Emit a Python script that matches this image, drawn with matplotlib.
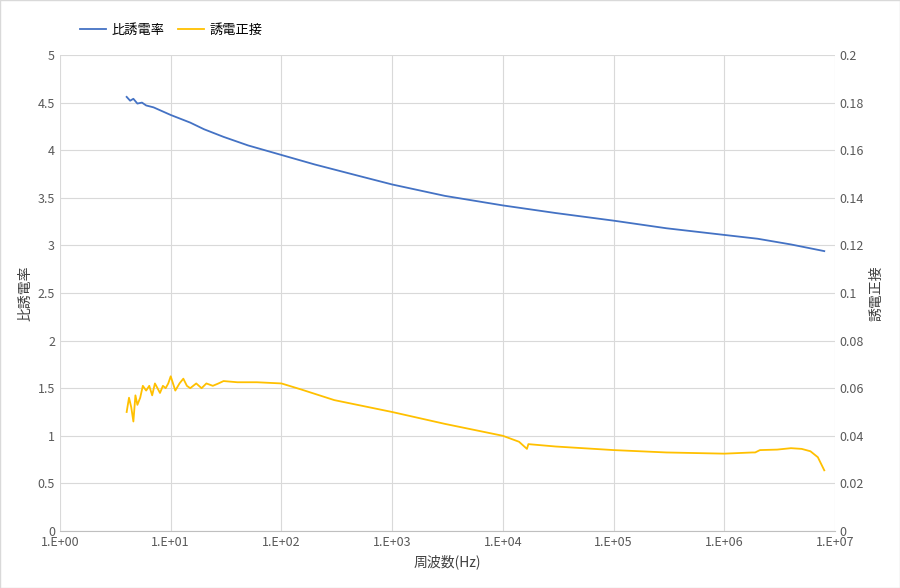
import matplotlib
matplotlib.use("Agg")
import matplotlib.pyplot as plt
from matplotlib.ticker import FixedLocator

plt.rcParams['font.family'] = ['Noto Sans CJK JP', 'DejaVu Sans']

freq_eps = [4.0, 4.3, 4.6, 5.0, 5.5, 6.0, 7.0, 8.0, 10, 15, 20, 30, 50, 100, 200, 500,
            1e3, 3e3, 1e4, 3e4, 1e5, 3e5, 1e6, 2e6, 4e6, 8e6]
eps = [4.56, 4.52, 4.54, 4.49, 4.50, 4.47, 4.45, 4.42, 4.37, 4.29, 4.22, 4.14, 4.05, 3.95,
       3.85, 3.73, 3.64, 3.52, 3.42, 3.34, 3.26, 3.18, 3.11, 3.07, 3.01, 2.94]

freq_tan = [4.0, 4.2, 4.4, 4.6, 4.8, 5.0, 5.3, 5.6, 6.0, 6.4, 6.8, 7.2, 7.6, 8.0, 8.5, 9.0,
            9.5, 10, 11, 12, 13, 14, 15, 17, 19, 21, 24, 27, 30, 40, 60, 100, 150, 300,
            1000, 3000, 1e4, 1.4e4, 1.65e4, 1.7e4, 3e4, 1e5, 3e5, 1e6, 1.8e6, 1.9e6,
            2.1e6, 3e6, 4e6, 5e6, 6e6, 7e6, 8e6]
tan = [0.050, 0.056, 0.052, 0.046, 0.057, 0.053, 0.056, 0.061, 0.059, 0.061, 0.057, 0.062,
       0.060, 0.058, 0.061, 0.060, 0.062, 0.065, 0.059, 0.062, 0.064, 0.061, 0.060, 0.062,
       0.060, 0.062, 0.061, 0.062, 0.063, 0.0625, 0.0625, 0.062, 0.0595, 0.0550,
       0.0500, 0.0450, 0.0400, 0.0375, 0.0345, 0.0365, 0.0355, 0.0340, 0.0330, 0.0325,
       0.0330, 0.0330, 0.0340, 0.0342, 0.0348, 0.0345, 0.0335, 0.0310, 0.0255]

fig = plt.figure(figsize=(9, 5.88), dpi=100)
ax = fig.add_axes([60/900, 57/588, 775/900, 476/588])
ax2 = ax.twinx()
blue, orange = '#4472C4', '#FFC000'
l1, = ax.plot(freq_eps, eps, color=blue, lw=1.3, label='比誘電率')
l2, = ax2.plot(freq_tan, tan, color=orange, lw=1.3, label='誘電正接')
ax.set_xscale('log')
ax.set_xlim(1, 1e7)
ax.set_ylim(0, 5)
ax2.set_ylim(0, 0.2)
ax.set_yticks([i*0.5 for i in range(11)])
ax.set_yticklabels(['0', '0.5', '1', '1.5', '2', '2.5', '3', '3.5', '4', '4.5', '5'])
ax2.set_yticks([i*0.02 for i in range(11)])
ax2.set_yticklabels(['0', '0.02', '0.04', '0.06', '0.08', '0.1', '0.12', '0.14', '0.16', '0.18', '0.2'])
xt = [10**i for i in range(8)]
ax.xaxis.set_major_locator(FixedLocator(xt))
ax.set_xticklabels([f'1.E+{i:02d}' for i in range(8)])
ax.xaxis.set_minor_locator(FixedLocator([]))
ax.grid(True, color='#D9D9D9', lw=0.8)
ax.set_axisbelow(True)
for a in (ax, ax2):
    for s in a.spines.values():
        s.set_visible(False)
    a.tick_params(length=0, labelsize=9, colors='#595959')
ax.spines['bottom'].set_visible(True)
ax.spines['bottom'].set_color('#BFBFBF')
ax.set_xlabel('周波数(Hz)', fontsize=10, color='#404040')
ax.set_ylabel('比誘電率', fontsize=10, color='#404040')
ax2.set_ylabel('誘電正接', fontsize=10, color='#404040')
fig.legend(handles=[l1, l2], loc='upper left', bbox_to_anchor=(68/900, 1-12/588), ncol=2,
           frameon=False, fontsize=9.5, handlelength=2.0, handletextpad=0.4, columnspacing=1.0)
fig.patches.append(plt.Rectangle((0, 0), 1, 1, transform=fig.transFigure, fill=False,
                                 edgecolor='#D9D9D9', lw=1))
fig.savefig('out.png', dpi=100)
